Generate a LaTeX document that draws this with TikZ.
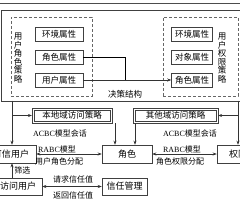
\documentclass[tikz,border=0pt]{standalone}
\usepackage{fontspec}
\setmainfont{Noto Sans CJK SC}
\newfontfamily\latfont{Liberation Serif}
\usepackage{tikz}
\usetikzlibrary{arrows.meta,positioning,fit}

\begin{document}
\begin{tikzpicture}[
    x=1pt, y=-1pt,
    line width=0.5pt,
    attr/.style={draw=black!75, minimum width=48pt, minimum height=14pt, inner sep=0pt, font=\fontsize{8.5}{9}\selectfont},
    pbox/.style={draw=black!60, dash pattern=on 3pt off 2pt, minimum height=79pt, inner sep=0pt},
    dbox/.style={draw=black!75, minimum height=11pt, inner sep=0pt, font=\fontsize{8.5}{9}\selectfont},
    dframe/.style={draw=black!75, inner sep=1.6pt},
    ebox/.style={draw=black!75, minimum height=18pt, inner sep=0pt, font=\fontsize{9}{10}\selectfont},
    vtext/.style={align=center, font=\fontsize{8.5}{8.5}\selectfont, inner sep=0pt},
    lbl/.style={font=\fontsize{8}{9}\selectfont, inner sep=0pt},
    arr/.style={-{Stealth[length=4pt, width=3pt]}, draw=black!80},
    darr/.style={{Stealth[length=4pt, width=3pt]}-{Stealth[length=4pt, width=3pt]}, draw=black!80}
]
  \useasboundingbox (0,0) rectangle (240,200);
  \clip (0,0) rectangle (240,200);

  % decision structure
  \draw[black!70] (0,3) -- (240,3);
  \node[draw=black!75, minimum width=250pt, minimum height=91pt, inner sep=0pt] (jc) at (126,55.5) {};
  \node[lbl, font=\fontsize{8.5}{9}\selectfont] (jclbl) at (125,94) {决策结构};

  \node[pbox, minimum width=81pt] (ur) at (51.5,56.5) {};
  \node[vtext] (urt) at (18,58) {用\\户\\角\\色\\策\\略};
  \node[attr] (la1) at (59,34) {环境属性};
  \node[attr] (la2) at (59,57) {角色属性};
  \node[attr] (la3) at (59,80) {用户属性};

  \node[pbox, minimum width=75pt] (up) at (200.5,56.5) {};
  \node[vtext] (upt) at (222,58) {用\\户\\权\\限\\策\\略};
  \node[attr, minimum width=41pt] (ra1) at (192,34) {环境属性};
  \node[attr, minimum width=41pt] (ra2) at (192,57) {对象属性};
  \node[attr, minimum width=41pt] (ra3) at (192,80) {角色属性};

  \coordinate (jn) at (125,80);
  \draw (la2.east) -| (jn);
  \draw[arr] (la3.east) -- (ra3.west);

  % access policies
  \node[dbox, minimum width=76pt] (bd) at (72,115.5) {本地域访问策略};
  \node[dframe, fit=(bd)] (bdo) {};
  \node[dbox, minimum width=81pt] (qt) at (175.5,115.5) {其他域访问策略};
  \node[dframe, fit=(qt)] (qto) {};

  \coordinate (ltop) at (12,101);
  \coordinate (rtop) at (238,101);
  \draw[arr] (ltop) |- (bdo.west);
  \draw[arr] (rtop) |- (qto.east);

  \node[lbl] (acl) at (60,133) {{\latfont ACBC}模型会话};
  \node[lbl] (acr) at (190,133) {{\latfont ACBC}模型会话};

  % RBAC layer
  \node[ebox, minimum width=50pt] (kx) at (11,154) {可信用户};
  \node[ebox, minimum width=50pt] (js) at (127,154) {角色};
  \node[ebox, minimum width=42pt] (qx) at (238,154) {权限};

  \draw[arr] (ltop) -- (ltop |- kx.north);
  \draw[arr] (rtop) -- (rtop |- qx.north);
  \draw[arr] (bdo.south -| 115,0) -- (115,0 |- js.north);
  \draw[arr] (qto.south -| 135,0) -- (135,0 |- js.north);

  \draw[darr] (kx.east) -- (js.west);
  \node[lbl] (r1) at (57,149) {{\latfont RABC}模型};
  \node[lbl] (r1b) at (59,161) {用户角色分配};
  \draw[darr] (js.east) -- (qx.west);
  \node[lbl] (r2) at (182,149) {{\latfont RABC}模型};
  \node[lbl] (r2b) at (180,161) {角色权限分配};

  % trust
  \node[ebox, minimum width=48pt, minimum height=17pt] (fw) at (18,186.5) {访问用户};
  \node[ebox, minimum width=45pt, minimum height=17pt] (xr) at (124.5,186.5) {信任管理};

  \draw[arr] (fw.north -| ltop) -- (kx.south -| ltop) node[lbl, midway, right=2pt] (sx) {筛选};
  \draw[darr] (fw.east) -- (xr.west);
  \node[lbl] (qq) at (73,179) {请求信任值};
  \node[lbl] (fh) at (73,195) {返回信任值};
\end{tikzpicture}
\end{document}
